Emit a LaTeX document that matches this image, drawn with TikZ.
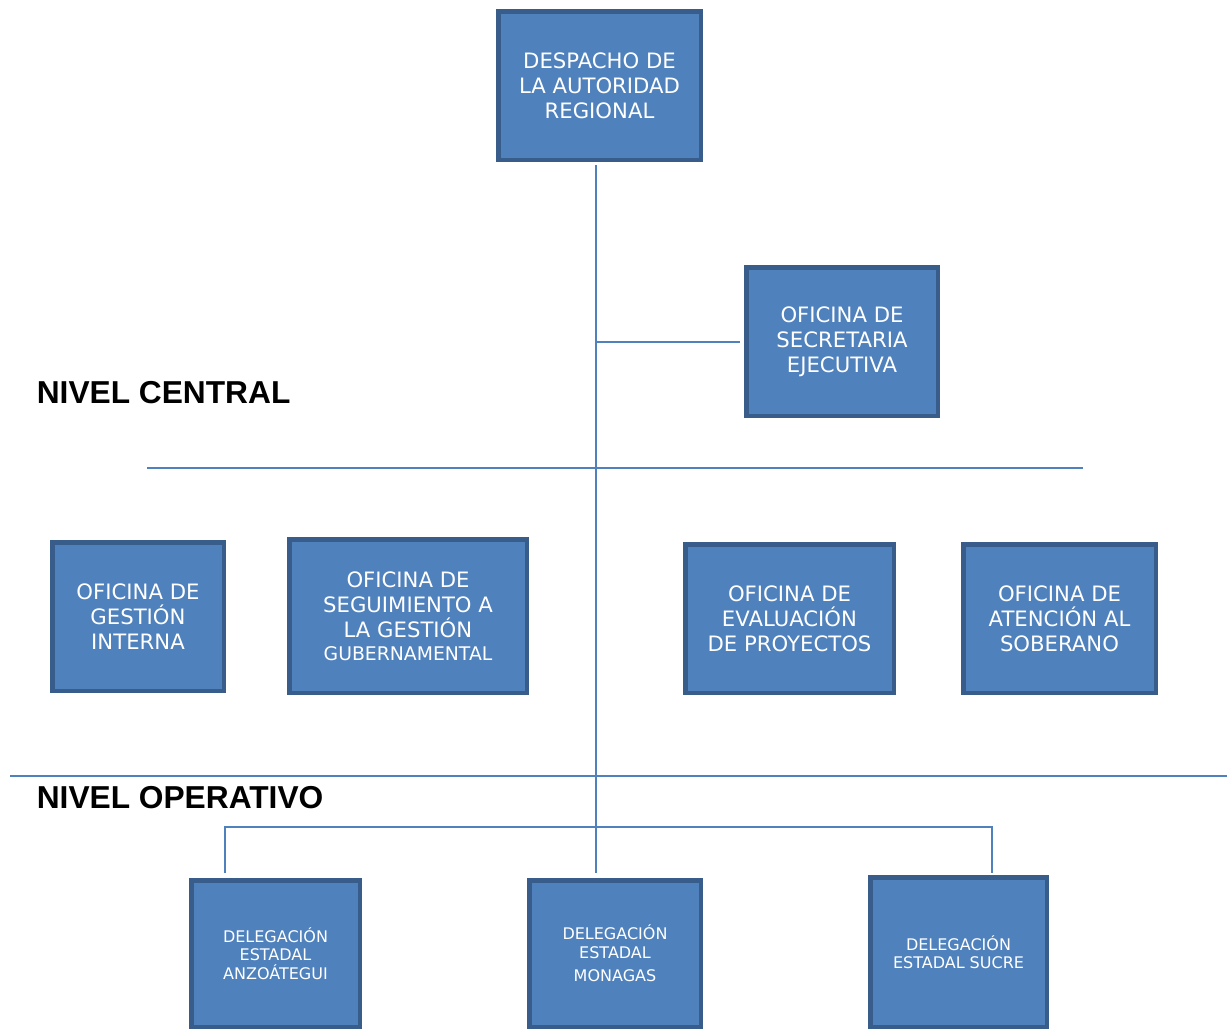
\documentclass[tikz,border=0pt]{standalone}
\usepackage{fontspec}
\setmainfont{DejaVu Sans}
\newfontfamily\nivelfont{Liberation Sans}
\usepackage{tikz}
\usetikzlibrary{calc}
\definecolor{cajaazul}{HTML}{4F81BD}
\definecolor{bordeazul}{HTML}{385D8A}

\tikzset{
  oficina/.style={draw=bordeazul, line width=4.5pt, fill=cajaazul, text=white,
    inner sep=0pt, align=center, font=\fontsize{21.2}{25}\selectfont},
  delegacion/.style={oficina, font=\fontsize{16}{18.5}\selectfont},
  nivel/.style={anchor=base west, inner sep=0pt, font=\nivelfont\bfseries\fontsize{31.7}{36}\selectfont}
}

\begin{document}
\begin{tikzpicture}[x=1pt, y=-1pt, line width=1.6pt]
\useasboundingbox (0,0) rectangle (1231,1029);
% nivel central
\node[oficina, minimum width=202.5pt, minimum height=148.5pt] (despacho) at (599.5,85.5) {DESPACHO DE\\LA AUTORIDAD\\REGIONAL};
\node[oficina, minimum width=191.5pt, minimum height=148.5pt] (secretaria) at (842,341.5) {OFICINA DE\\SECRETARIA\\EJECUTIVA};
\node[oficina, minimum width=171.5pt, minimum height=148.5pt] (gestion) at (138,616.5) {OFICINA DE\\GESTIÓN\\INTERNA};
\node[oficina, minimum width=237.5pt, minimum height=153.5pt] (seguimiento) at (408,616) {OFICINA DE\\SEGUIMIENTO A\\LA GESTIÓN\\[-2pt]{\fontsize{18.8}{22}\selectfont GUBERNAMENTAL}};
\node[oficina, minimum width=208.5pt, minimum height=148.5pt] (evaluacion) at (789.5,618.5) {OFICINA DE\\EVALUACIÓN\\DE PROYECTOS};
\node[oficina, minimum width=192.5pt, minimum height=148.5pt] (atencion) at (1059.5,618.5) {OFICINA DE\\ATENCIÓN AL\\SOBERANO};
% nivel operativo
\node[delegacion, minimum width=168.5pt, minimum height=146.5pt] (anzoategui) at (275.5,953.5) {DELEGACIÓN\\ESTADAL\\ANZOÁTEGUI};
\node[delegacion, minimum width=171.5pt, minimum height=146.5pt] (monagas) at (615,953.5) {DELEGACIÓN\\ESTADAL\\[5pt]MONAGAS};
\node[delegacion, minimum width=176.5pt, minimum height=149.5pt] (sucre) at (958.5,952) {DELEGACIÓN\\ESTADAL SUCRE};

\node[nivel] (central) at (36,403) {NIVEL CENTRAL};
\node[nivel] (operativo) at (36,808) {NIVEL OPERATIVO};

\coordinate (arriba) at (596,165);
\coordinate (abajo) at (596,873);
\coordinate (sec) at (740,342);
\coordinate (anz) at (225,873);
\coordinate (suc) at (992,873);

\begin{scope}[draw=cajaazul]
\draw (arriba) -- (abajo);
\draw (arriba |- sec) -- (sec);
\draw (147,468) -- (1083,468);
\draw (10,776) -- (1227,776);
\draw (anz) -- ++(0,-46) -| (suc);
\end{scope}
\end{tikzpicture}
\end{document}
